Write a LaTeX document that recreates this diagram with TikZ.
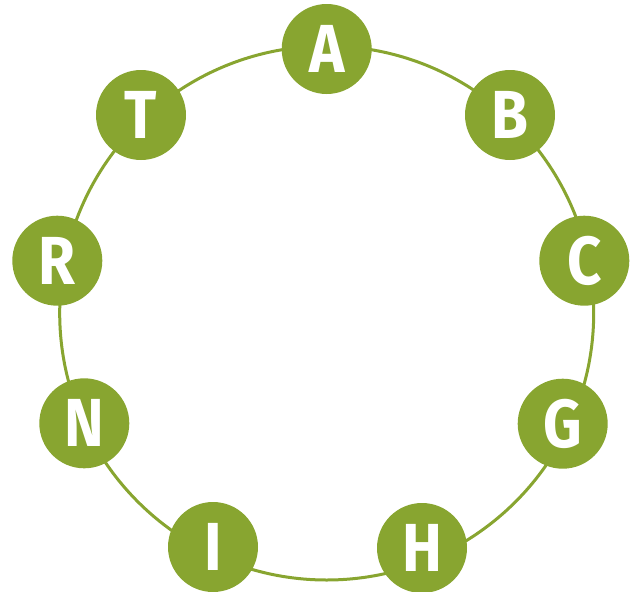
\documentclass[tikz,border=0pt]{standalone}
\usepackage{xcolor}
\usepackage{fontspec}
\usepackage{tikz}
\usetikzlibrary{calc}
\setmainfont{Fira Sans}
\newfontfamily\letterfont[FakeStretch=0.88]{Fira Sans}
\definecolor{leaf}{HTML}{88A530}

\begin{document}
\begin{tikzpicture}[x=1pt,y=-1pt,
			main node/.style={circle,fill=leaf,minimum size=90pt,inner sep=0pt,
			text=white,font=\letterfont\bfseries\fontsize{68}{68}\selectfont}]
			\useasboundingbox (0,0) rectangle (638,592);
			
			% ring behind the letters
			\coordinate (mid) at (326.7,313);
			\draw[leaf,line width=3pt] (mid) circle [radius=267pt];
			
			\node[main node] (A) at (326.7,49) {A};
			\node[main node] (B) at (510,115) {B};
			\node[main node] (C) at (584.3,260.7) {C};
			\node[main node] (G) at (562.7,423.7) {G};
			\node[main node] (H) at (422,548) {H};
			\node[main node] (I) at (213,547) {I};
			\node[main node] (N) at (84.3,423.3) {N};
			\node[main node] (R) at (57.3,260.7) {R};
			\node[main node] (T) at (141,115) {T};
		
		\end{tikzpicture}
\end{document}
